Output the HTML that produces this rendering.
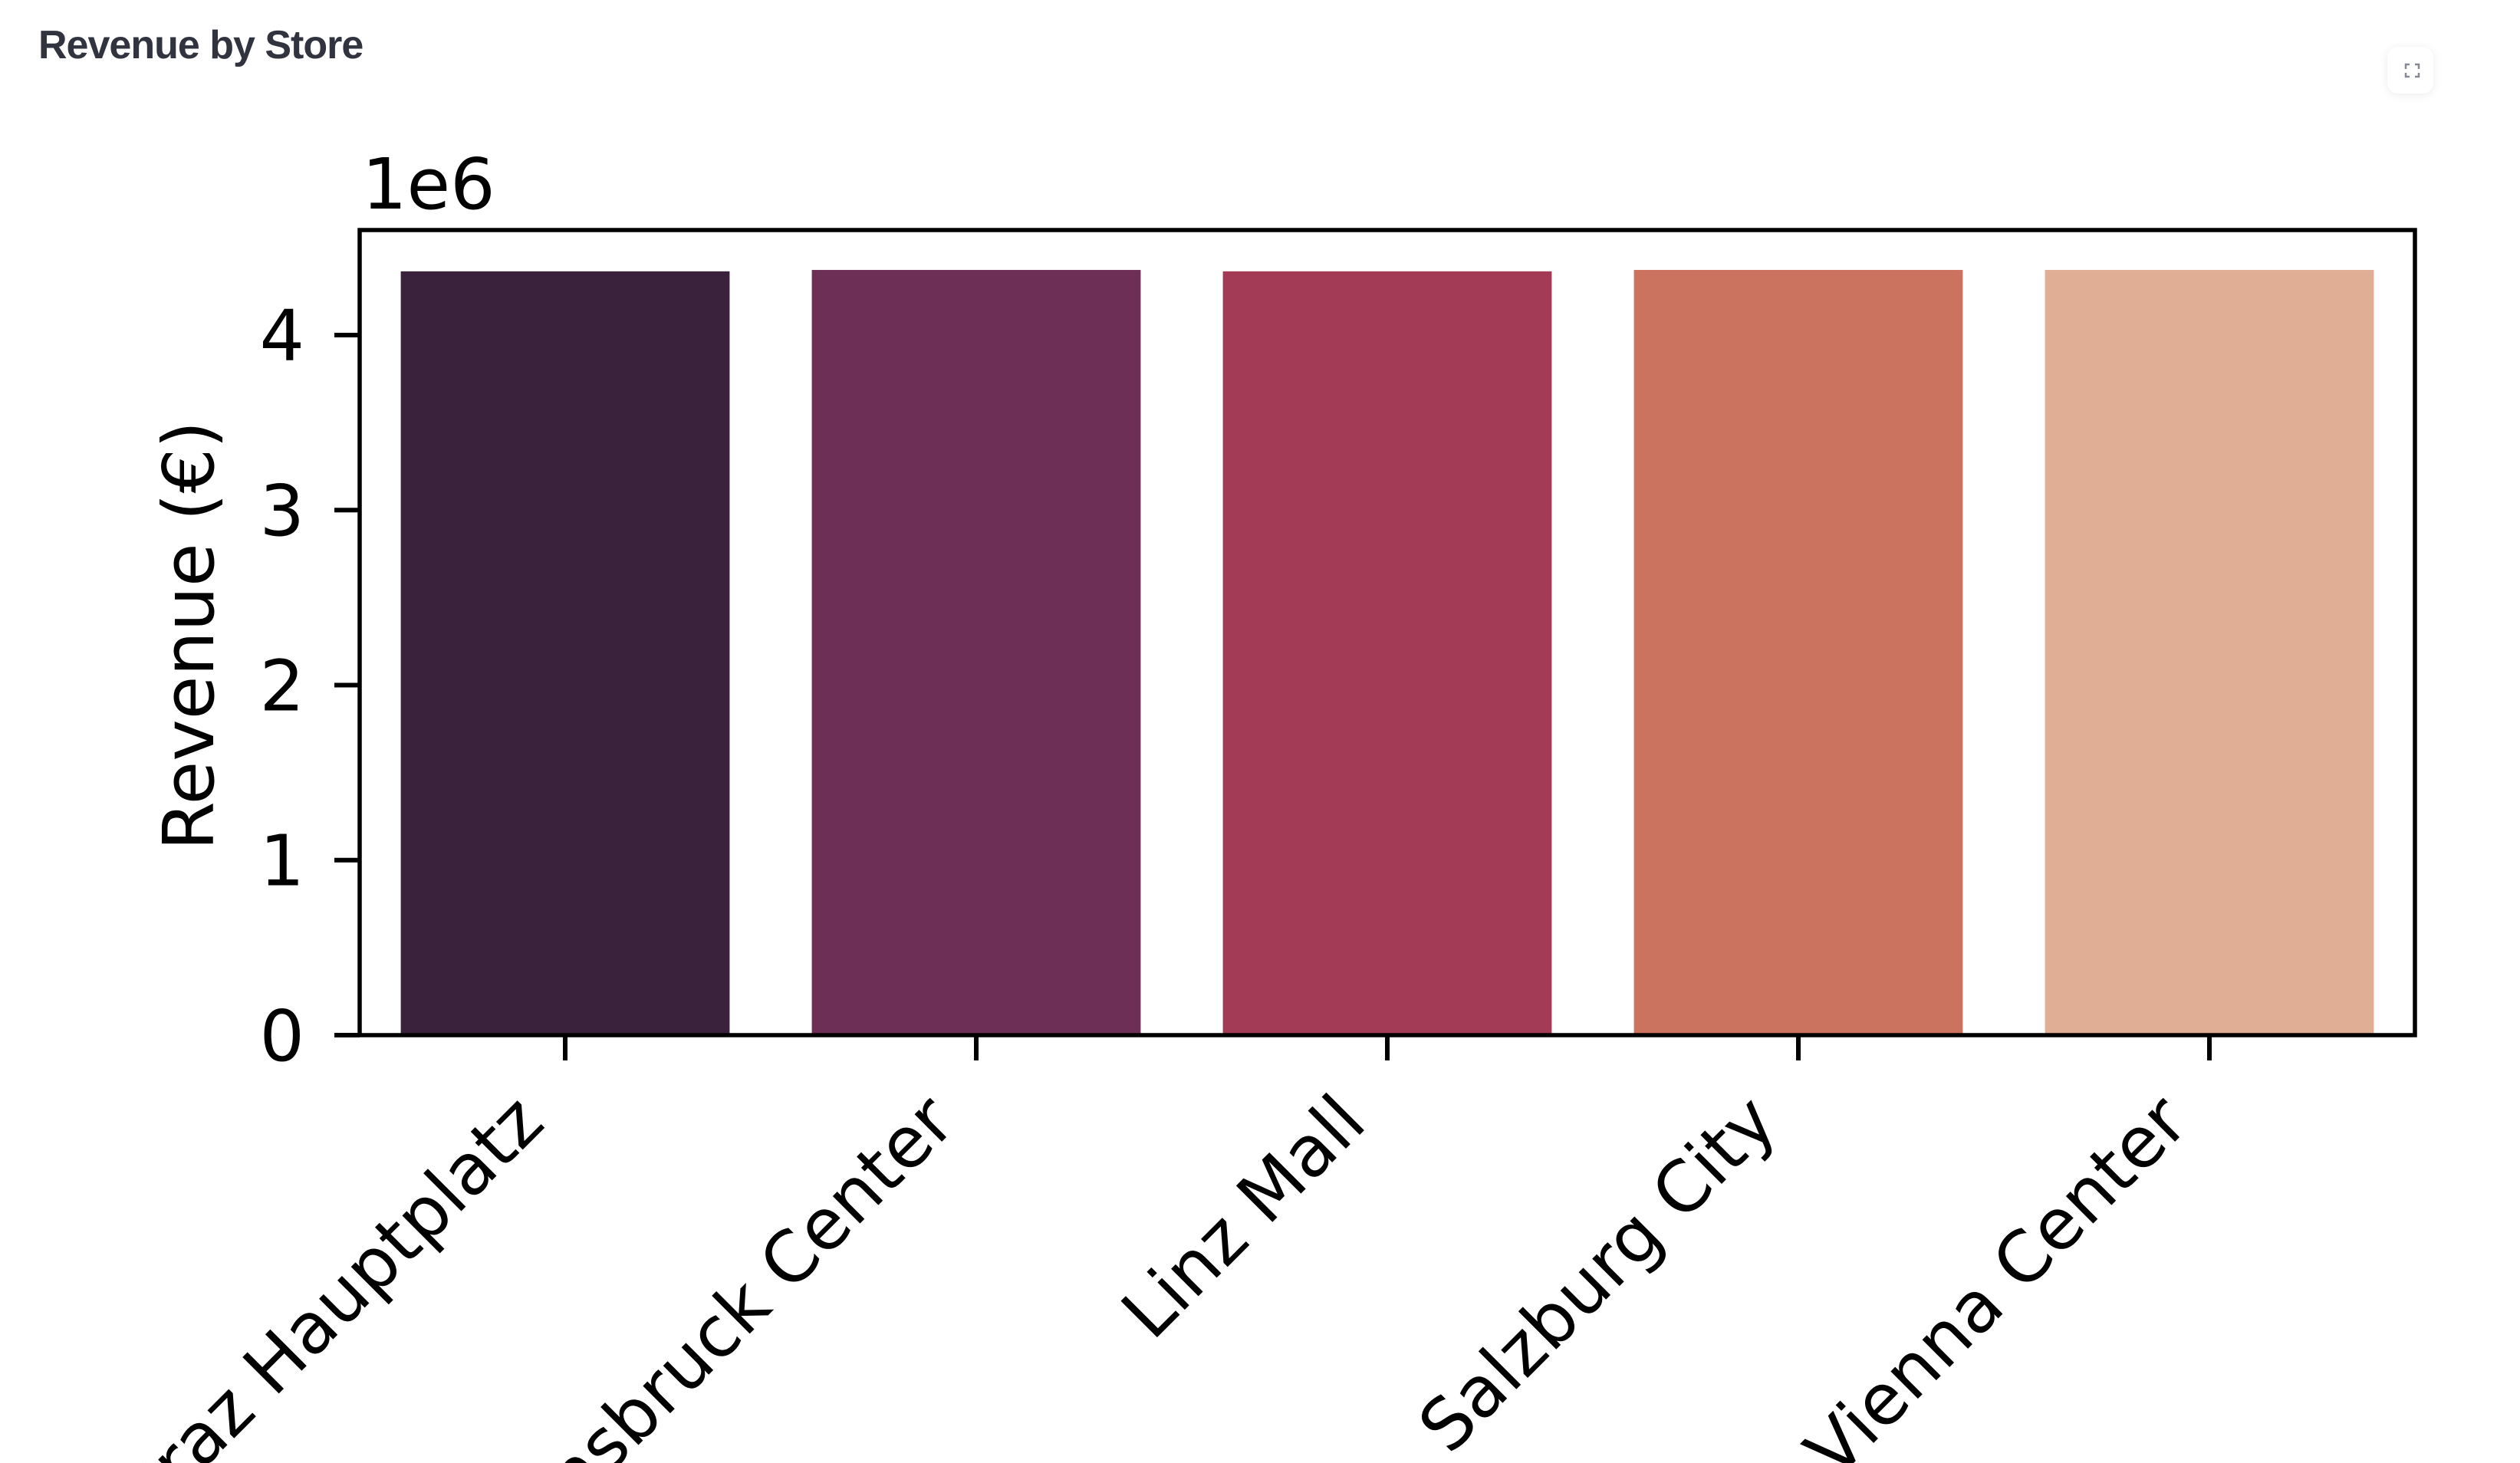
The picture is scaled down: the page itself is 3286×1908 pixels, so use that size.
<!DOCTYPE html>
<html><head><meta charset="utf-8"><style>
html,body{margin:0;padding:0;background:#fff;width:3286px;height:1908px;overflow:hidden}
#title{position:absolute;left:50px;top:29px;font-family:"Liberation Sans",sans-serif;font-weight:bold;font-size:52px;color:#31333f;letter-spacing:-1px}
#fs{position:absolute;left:3113px;top:61px;width:60px;height:61px;border-radius:14px;background:#fff;box-shadow:0 2px 12px rgba(0,0,0,0.08)}
svg{position:absolute;left:0;top:0}
</style></head><body>
<div id="title">Revenue by Store</div>
<div id="fs">
<svg width="60" height="61" viewBox="0 0 60 61"><path d="M24 29v-6h5M36 23h5v6M41 34v5h-5M29 39h-5v-5" stroke="#888a93" stroke-width="2.5" fill="none"/></svg>
</div>
<svg id="chart" width="3286" height="1908"></svg>
<script>
const categories = ["Graz Hauptplatz","Innsbruck Center","Linz Mall","Salzburg City","Vienna Center"];
const revenues = [4364000, 4372000, 4364000, 4372000, 4372000];
const colors = ["#3a213c","#6e2f56","#a43b56","#cb735e","#dfae94"];
const yTicks = [0,1,2,3,4];
const yMax = 4.6;
const scaleExp = 1e6;

const NS="http://www.w3.org/2000/svg";
const svg=document.getElementById('chart');
const L=469,R=3149,T=300,B=1350;
const xs=i=>L+(i+0.5)*(R-L)/categories.length;
const ys=v=>B-(v/yMax)*(B-T);
const band=(R-L)/categories.length;
function mk(tag,attrs,txt){const e=document.createElementNS(NS,tag);for(const k in attrs)e.setAttribute(k,attrs[k]);if(txt!==undefined)e.textContent=txt;svg.appendChild(e);return e;}
const font='"DejaVu Sans","Liberation Sans",sans-serif';

categories.forEach((c,i)=>{
  const v=revenues[i]/scaleExp;
  const r=mk('rect',{x:xs(i)-band*0.4,y:ys(v),width:band*0.8,height:B-ys(v),fill:colors[i]});
  
  
  const t=mk('line',{x1:xs(i),x2:xs(i),y1:B,y2:B+33,stroke:'#000','stroke-width':6});
  
  
  const lx=xs(i)-24,ly=1468;
  const lab=mk('text',{x:lx,y:ly,'text-anchor':'end','font-family':font,'font-size':92,fill:'#000',transform:`rotate(-45 ${lx} ${ly})`},c);
  
  
});
yTicks.forEach(v=>{
  const t=mk('line',{x1:L-33,x2:L,y1:ys(v),y2:ys(v),stroke:'#000','stroke-width':6});
  
  
  const lab=mk('text',{x:397,y:ys(v)+33,'text-anchor':'end','font-family':font,'font-size':92,fill:'#000'},String(v));
  
  
});
const frame=mk('rect',{x:L,y:T,width:R-L,height:B-T,fill:'none',stroke:'#000','stroke-width':5.5});


const off=mk('text',{x:472,y:272,'font-family':font,'font-size':92,fill:'#000'},'1e6');


const yl=mk('text',{x:0,y:0,'text-anchor':'middle','font-family':font,'font-size':92,fill:'#000',transform:'translate(278 829) rotate(-90)'},'Revenue (€)');


</script>
</body></html>
